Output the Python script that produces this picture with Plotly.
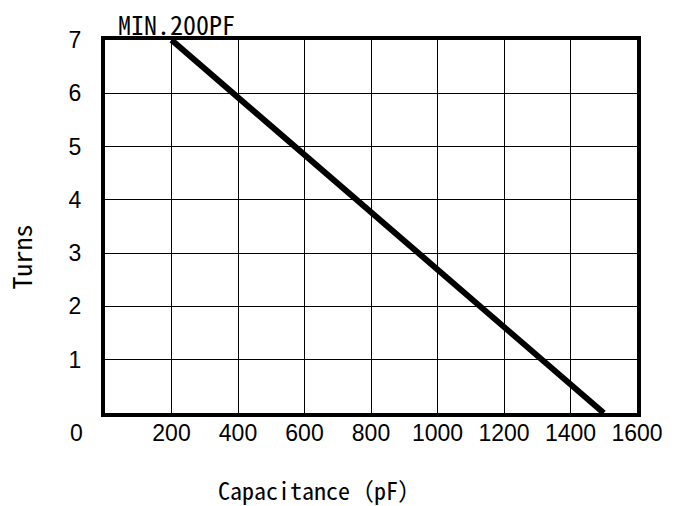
import plotly.graph_objects as go

# Data
capacitance_pf = [200, 1500]
turns = [7, 0]
x_ticks = [200, 400, 600, 800, 1000, 1200, 1400, 1600]
y_ticks = [1, 2, 3, 4, 5, 6, 7]
note_text = "MIN.200PF"
x_title = "Capacitance（pF）"
y_title = "Turns"

gothic = "Noto Sans Mono CJK JP, Noto Sans CJK JP, monospace"
sans = "Liberation Sans, Arial, sans-serif"

fig = go.Figure()
fig.add_trace(go.Scatter(
    x=capacitance_pf, y=turns, mode="lines",
    line=dict(color="black", width=6),
    showlegend=False, hoverinfo="skip", cliponaxis=False,
))

axis_common = dict(
    showline=True, linecolor="black", linewidth=4, mirror=True,
    showgrid=True, gridcolor="black", gridwidth=1.3,
    zeroline=False, ticks="", ticklen=0, tickfont=dict(family=sans, size=23, color="black"),
)
fig.update_xaxes(range=[0, 1600], tickvals=x_ticks, ticktext=[str(v) for v in x_ticks],
                 ticklabelstandoff=-4, **axis_common)
fig.update_yaxes(range=[0, 7], tickvals=y_ticks, ticktext=[str(v) for v in y_ticks],
                 ticklabelstandoff=15, **axis_common)

fig.add_annotation(text="0", xref="paper", yref="paper", x=(76 - 105) / 535, y=(413 - 433) / 373,
                   xanchor="center", yanchor="middle", showarrow=False,
                   font=dict(family=sans, size=23, color="black"))
fig.add_annotation(text=note_text, xref="paper", yref="paper", x=(116 - 105) / 535, y=(413 - 24) / 373,
                   xanchor="left", yanchor="middle", showarrow=False,
                   font=dict(family=gothic, size=26, color="black"))
fig.add_annotation(text=x_title, xref="paper", yref="paper", x=(321 - 105) / 535, y=(413 - 490) / 373,
                   xanchor="center", yanchor="middle", showarrow=False,
                   font=dict(family=gothic, size=24, color="black"))
fig.add_annotation(text=y_title, xref="paper", yref="paper", x=(20 - 105) / 535, y=(413 - 257) / 373,
                   xanchor="center", yanchor="middle", showarrow=False, textangle=-90,
                   font=dict(family=gothic, size=26, color="black"))

fig.update_layout(
    width=675, height=506,
    margin=dict(l=105, r=35, t=40, b=93),
    plot_bgcolor="white", paper_bgcolor="white",
)
fig.write_html("out.html", config={"displayModeBar": False},
               post_script="document.body.style.margin='0';document.body.style.padding='0';")
